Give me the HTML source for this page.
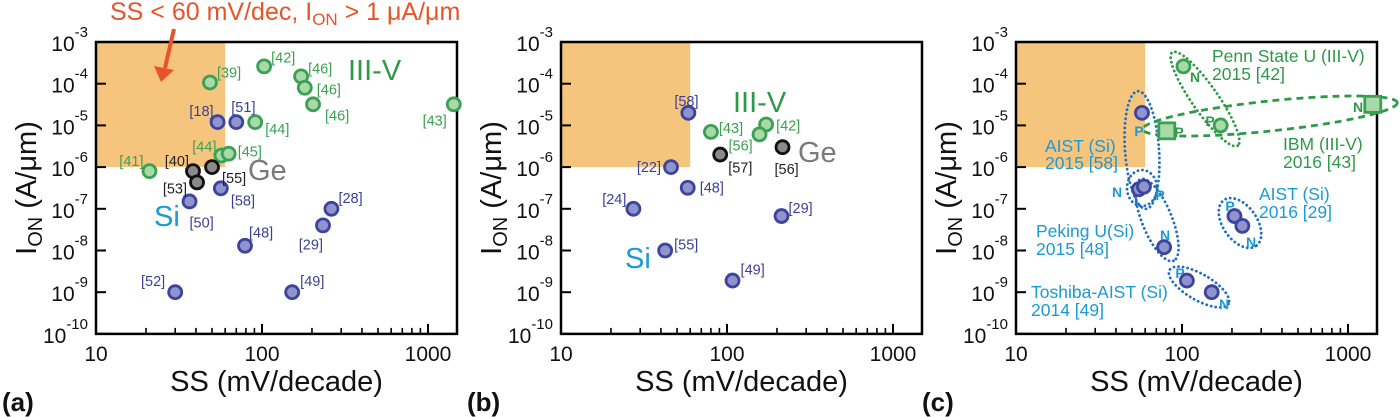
<!DOCTYPE html>
<html><head><meta charset="utf-8"><style>
html,body{margin:0;padding:0;background:#fff;}
svg{display:block;font-family:"Liberation Sans",sans-serif;}
</style></head><body>
<svg id="fig" width="1400" height="417" viewBox="0 0 1400 417" xmlns="http://www.w3.org/2000/svg"></svg>
<script>
// ---------- data ----------
const xTickLabels = ["10","100","1000"];
const yTickExps = ["-3","-4","-5","-6","-7","-8","-9","-10"];
// panel a
const aSS   = [21,48.6,103,172,181,203,1430,91,57,63, 54,70,56.5,36.6,79,262,233,30,152, 38.4,40.6,50];
const aIon  = [8e-7,1.07e-4,2.6e-4,1.5e-4,8e-5,3.2e-5,3.2e-5,1.2e-5,1.9e-6,2.1e-6, 1.2e-5,1.2e-5,3.1e-7,1.5e-7,1.3e-8,1e-7,4e-8,1e-9,1e-9, 8e-7,4.3e-7,1e-6];
const aType = ["g","g","g","g","g","g","g","g","g","g","b","b","b","b","b","b","b","b","b","k","k","k"];
const aRef  = ["[41]","[39]","[42]","[46]","[46]","[46]","[43]","[44]","[44]","[45]","[18]","[51]","[58]","[50]","[48]","[28]","[29]","[52]","[49]","[40]","[53]","[55]"];
// panel b
const bSS   = [58.5,80,172,157,91,216,46,58,27.3,213,42.4,108];
const bIon  = [2e-5,7e-6,1.05e-5,6.1e-6,2e-6,3e-6,1e-6,3.2e-7,1e-7,6.7e-8,1e-8,1.9e-9];
const bType = ["b","g","g","g","k","k","b","b","b","b","b","b"];
const bRef  = ["[58]","[43]","[42]","[56]","[57]","[56]","[22]","[48]","[24]","[29]","[55]","[49]"];
// panel c
const cSS   = [57.4,81,1410,102,171,55,59,78,207,231,107,151];
const cIon  = [2e-5,7.4e-6,3.2e-5,2.6e-4,1e-5,2.95e-7,3.4e-7,1.2e-8,6.7e-8,3.9e-8,1.9e-9,1e-9];
const cType = ["b","gs","gs","g","g","b","b","b","b","b","b","b"];

// label offsets (style, not data)
const aOff = [[-6,-10,"end"],[7,-10,"start"],[7,-9,"start"],[7,-8,"start"],[12,2,"start"],[12,11,"start"],[-7,16,"end"],[10,7,"start"],[-5,-9,"end"],[9,-2,"start"],[-4,-11,"end"],[-5,-15,"start"],[10,12,"start"],[0,21,"start"],[4,-13,"start"],[7,-11,"start"],[0,19,"end"],[-10,-11,"end"],[8,-11,"start"],[-4,-10,"end"],[-10,6,"end"],[10,11,"start"]];
const bOff = [[-14,-12,"start"],[8,-4,"start"],[10,1,"start"],[-31,11,"start"],[8,13,"start"],[-8,22,"start"],[-10,0,"end"],[12,0,"start"],[-7,-10,"end"],[7,-8,"start"],[9,-6,"start"],[8,-11,"start"]];

const NS="http://www.w3.org/2000/svg";
const svg=document.getElementById('fig');
const TOP=42, DEC_Y=41.7, DEC_X=166, W=361, BOT=TOP+7*DEC_Y;
function mk(tag,attrs,parent){const e=document.createElementNS(NS,tag);for(const k in attrs)e.setAttribute(k,attrs[k]);(parent||svg).appendChild(e);return e;}
function xs(x0){return v=>x0+(Math.log10(v)-1)*DEC_X;}
function ys(v){return TOP+(-3-Math.log10(v))*DEC_Y;}
const fills={b:["#8f94cf","#3c449d"],g:["#a9d8a9","#3aa152"],gs:["#a9d8a9","#3aa152"],k:["#8a8a8a","#111"]};
const labCol={b:"#3c3f96",g:"#3aa152",k:"#222"};

function panel(x0,letter,id){
  const g=mk('g',{});
  
  
  const X=xs(x0);
  const sh=mk('rect',{x:x0,y:TOP,width:X(60)-x0,height:ys(1e-6)-TOP,fill:"#f5c57e"},g);
  
  
  const frame=mk('rect',{x:x0,y:TOP,width:W,height:BOT-TOP,fill:"none",stroke:"#000","stroke-width":2.5},g);
  
  
  yTickExps.forEach((e,i)=>{
    const y=TOP+i*DEC_Y;
    const t=mk('line',{x1:x0,x2:x0+10,y1:y,y2:y,stroke:"#000","stroke-width":2},g);
    
    
    const tx=mk('text',{x:x0-8,y:y+9,"text-anchor":"end","font-size":21,fill:"#111"},g);
    
    
    const s1=mk('tspan',{},tx);s1.textContent="10";
    const s2=mk('tspan',{dy:-14,"font-size":15},tx);s2.textContent=e;
  });
  for(let d=1;d<=3;d++){for(let m=1;m<=9;m++){const v=m*Math.pow(10,d);if(v>1500)break;const x=X(v);
    const major=m===1;
    const t=mk('line',{x1:x,x2:x,y1:BOT,y2:BOT-(major?10:6),stroke:"#000","stroke-width":major?2:1.6},g);
    
    }}
  xTickLabels.forEach((l,i)=>{
    const tx=mk('text',{x:X(Number(l)),y:361,"text-anchor":"middle","font-size":21,fill:"#111"},g);
    
    
    tx.textContent=l;
  });
  const xt=mk('text',{x:x0+W/2,y:391,"text-anchor":"middle","font-size":29,fill:"#111"},g);
  
  
  xt.textContent="SS (mV/decade)";
  const yt=mk('text',{transform:`translate(${x0-60},188) rotate(-90)`,"text-anchor":"middle","font-size":29,fill:"#111"},g);
  
  
  const a1=mk('tspan',{},yt);a1.textContent="I";
  const a2=mk('tspan',{"font-size":20,dy:6},yt);a2.textContent="ON";
  const a3=mk('tspan',{dy:-6},yt);a3.textContent=" (A/μm)";
  const pl=mk('text',{x:x0-94,y:411,"font-size":26,"font-weight":"bold",fill:"#111"},g);
  
  
  pl.textContent=letter;
  return {g,X};
}
function points(p,ss,ion,type,refs,off){
  ss.forEach((v,i)=>{
    const cx=p.X(v), cy=ys(ion[i]); const f=fills[type[i]];
    let m;
    if(type[i]==="gs"){m=mk('rect',{x:cx-8,y:cy-8,width:16,height:16,fill:f[0],stroke:f[1],"stroke-width":2.8},p.g);}
    else m=mk('circle',{cx:cx,cy:cy,r:6.5,fill:f[0],stroke:f[1],"stroke-width":2.8},p.g);
    
    
    if(refs){const o=off[i];
      const t=mk('text',{x:cx+o[0],y:cy+o[1]+5,"text-anchor":o[2],"font-size":14.5,fill:labCol[type[i]]},p.g);
      
      
      t.textContent=refs[i];}
  });
}
function txt(s,x,y,size,col,name,extra){const t=mk('text',Object.assign({x:x,y:y,"font-size":size,fill:col},extra||{}));
  
  
  t.textContent=s;return t;}

const pa=panel(96,"(a)","a");
points(pa,aSS,aIon,aType,aRef,aOff);
txt("III-V",348,80,29,"#2e9a48","label-iii-v");
txt("Ge",248,180,29,"#7a7a7a","label-ge");
txt("Si",154,226,29,"#1a9ad6","label-si");
const ann=txt("",110,20,25,"#e8542a","target-annotation");
{const s1=mk('tspan',{},ann);s1.textContent="SS < 60 mV/dec, I";const s2=mk('tspan',{"font-size":17,dy:5},ann);s2.textContent="ON";const s3=mk('tspan',{dy:-5},ann);s3.textContent=" > 1 μA/μm";}
const arr=mk('path',{d:"M174,29 L165,68",stroke:"#e8542a","stroke-width":4,fill:"none"});


const ah=mk('path',{d:"M154,66 L161,82 L174,70 Z",fill:"#e8542a"});



const pb=panel(561,"(b)","b");
points(pb,bSS,bIon,bType,bRef,bOff);
txt("III-V",733,112,29,"#2e9a48","label-iii-v");
txt("Ge",798,162,29,"#7a7a7a","label-ge");
txt("Si",625,268,29,"#1a9ad6","label-si");

const pc=panel(1016,"(c)","c");
function ell(cx,cy,rx,ry,ang,col,dash,name){const e=mk('ellipse',{cx:cx,cy:cy,rx:rx,ry:ry,transform:`rotate(${ang} ${cx} ${cy})`,fill:"none",stroke:col,"stroke-width":2.8,"stroke-dasharray":dash,"stroke-linecap":dash==="0.1 4.5"?"round":"butt"},pc.g);
  
  }
ell(1142,150,17,59,-4,"#1f6fc0","0.1 4.5","group-aist-2015");
ell(1142,188,15,18,0,"#1f6fc0","0.1 4.5","group-pair");
ell(1157,220,44,15,68,"#1f6fc0","0.1 4.5","group-peking");
ell(1240,223,28,17,55,"#1f6fc0","0.1 4.5","group-aist-2016");
ell(1199,287,34,13,30,"#1f6fc0","0.1 4.5","group-toshiba");
ell(1205,99,57,13,55,"#2e9a48","0.1 4.5","group-penn-state");
ell(1270,116,128,15,-6,"#2e9a48","7 5","group-ibm");
points(pc,cSS,cIon,cType,null,null);
const lc="#1a9ad6", gc="#2e9a48";
[["Penn State U (III-V)",1212,62,gc],["2015 [42]",1212,80,gc],["IBM (III-V)",1283,150,gc],["2016 [43]",1283,168,gc],
 ["AIST (Si)",1045,152,lc],["2015 [58]",1045,169,lc],["AIST (Si)",1259,200,lc],["2016 [29]",1259,218,lc],
 ["Peking U(Si)",1036,237,lc],["2015 [48]",1036,255,lc],["Toshiba-AIST (Si)",1031,298,lc],["2014 [49]",1031,316,lc]
].forEach(d=>txt(d[0],d[1],d[2],17.5,d[3],"group-label"));
[["P",1139,136,lc],["N",1195,82,gc],["P",1210,126,gc],["P",1179,137,gc],["N",1358,112,gc],["N",1117,197,lc],["P",1160,200,lc],["N",1165,240,lc],["P",1230,211,lc],["N",1251,247,lc],["P",1180,278,lc],["N",1224,309,lc]
].forEach(d=>txt(d[0],d[1],d[2],14,d[3],"type-label",{"text-anchor":"middle","font-weight":"bold"}));
</script>
</body></html>
